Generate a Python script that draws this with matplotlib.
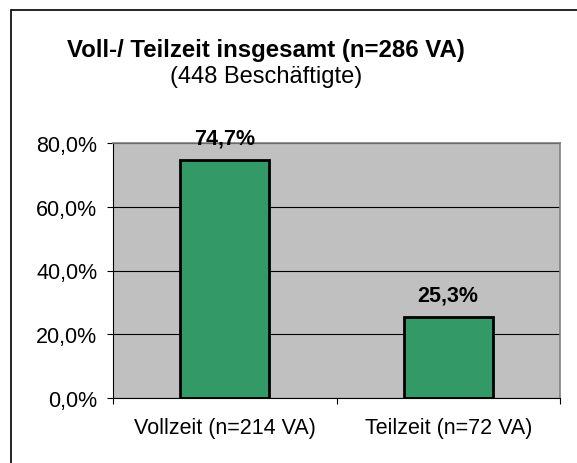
import matplotlib.pyplot as plt
from matplotlib.patches import Rectangle
from matplotlib.ticker import FuncFormatter

# data
categories = ["Vollzeit (n=214 VA)", "Teilzeit (n=72 VA)"]
values = [74.7, 25.3]
title_main = "Voll-/ Teilzeit insgesamt (n=286 VA)"
title_sub = "(448 Beschäftigte)"

plt.rcParams['font.family'] = ['Liberation Sans', 'DejaVu Sans']

W, H = 577, 464
fig = plt.figure(figsize=(W / 100, H / 100), dpi=100)

# outer chart border (right/bottom run off the picture)
fig.patches.append(Rectangle((11 / W, -0.05), 1.1, 1 - 11 / H + 0.05,
                             transform=fig.transFigure, fill=False,
                             edgecolor="black", linewidth=1.2))

# plot area in pixels: left 113, right 560, top 144, bottom 399
ax = fig.add_axes([113 / W, 1 - 399 / H, (560 - 113) / W, (399 - 144) / H])
ax.set_facecolor("#C0C0C0")

x = list(range(len(categories)))
ax.bar(x, values, width=0.4, color="#339966", edgecolor="black", linewidth=2, zorder=3)

for xi, v in zip(x, values):
    ax.text(xi, v + 5.3, f"{v:.1f}".replace(".", ",") + "%", ha="center", va="baseline",
            fontsize=15.5, fontweight="bold", zorder=4, clip_on=False)

ax.set_xlim(-0.5, 1.5)
ax.set_ylim(0, 80)
ax.set_yticks([0, 20, 40, 60, 80])
ax.yaxis.set_major_formatter(FuncFormatter(lambda v, p: f"{v:.1f}".replace(".", ",") + "%"))
ax.yaxis.grid(True, color="black", linewidth=0.8, zorder=1)

ax.set_xticks(x)
ax.set_xticklabels(categories)
ax.set_xticks([-0.5, 0.5, 1.5], minor=True)
ax.tick_params(axis="x", which="major", length=0, pad=14, labelsize=15.5)
ax.tick_params(axis="x", which="minor", length=4, width=0.8, direction="out")
ax.tick_params(axis="y", length=4.3, width=0.8, direction="out", labelsize=15.5, pad=7)

for side in ["top", "right"]:
    ax.spines[side].set_color("#808080")
    ax.spines[side].set_linewidth(1.2)
for side in ["left", "bottom"]:
    ax.spines[side].set_color("black")
    ax.spines[side].set_linewidth(0.8)

fig.text(266 / W, 1 - 50 / H, title_main, ha="center", va="center", fontsize=17.3, fontweight="bold")
fig.text(266 / W, 1 - 77 / H, title_sub, ha="center", va="center", fontsize=17)

fig.savefig("out.png", dpi=100)
